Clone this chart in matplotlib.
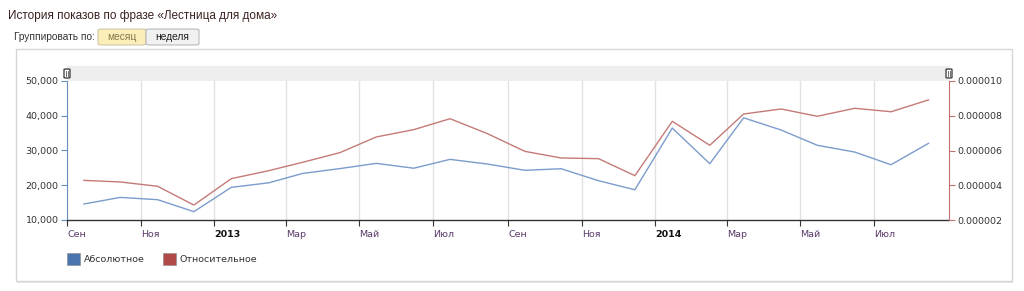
import matplotlib
matplotlib.use("Agg")
import matplotlib.pyplot as plt
import matplotlib.dates as mdates
from matplotlib.patches import Rectangle, FancyBboxPatch
import datetime as dt

# ---- data ----
months = [(2012, 9), (2012, 10), (2012, 11), (2012, 12),
          (2013, 1), (2013, 2), (2013, 3), (2013, 4), (2013, 5), (2013, 6),
          (2013, 7), (2013, 8), (2013, 9), (2013, 10), (2013, 11), (2013, 12),
          (2014, 1), (2014, 2), (2014, 3), (2014, 4), (2014, 5), (2014, 6),
          (2014, 7), (2014, 8)]
absolute = [14600, 16500, 15850, 12400, 19400, 20700, 23400, 24800, 26300, 24900,
            27450, 26100, 24300, 24750, 21300, 18700, 36450, 26200, 39400, 35900,
            31500, 29550, 25900, 32050]
relative = [4.28e-6, 4.19e-6, 3.94e-6, 2.86e-6, 4.38e-6, 4.84e-6, 5.32e-6, 5.88e-6,
            6.78e-6, 7.20e-6, 7.83e-6, 6.97e-6, 5.95e-6, 5.57e-6, 5.53e-6, 4.55e-6,
            7.68e-6, 6.30e-6, 8.10e-6, 8.39e-6, 7.97e-6, 8.43e-6, 8.23e-6, 8.91e-6]
tick_months = [(2012, 9), (2012, 11), (2013, 1), (2013, 3), (2013, 5), (2013, 7),
               (2013, 9), (2013, 11), (2014, 1), (2014, 3), (2014, 5), (2014, 7)]
tick_labels = ["Сен", "Ноя", "2013", "Мар", "Май", "Июл", "Сен", "Ноя", "2014",
               "Мар", "Май", "Июл"]
left_ticks = [10000, 20000, 30000, 40000, 50000]
left_labels = ["10,000", "20,000", "30,000", "40,000", "50,000"]
right_ticks = [2e-6, 4e-6, 6e-6, 8e-6, 10e-6]
right_labels = ["0.000002", "0.000004", "0.000006", "0.000008", "0.000010"]
series_names = ["Абсолютное", "Относительное"]

W, H = 1024, 291
fig = plt.figure(figsize=(W / 100, H / 100), dpi=100)
fig.patch.set_facecolor("white")

def fx(px):
    return px / W

def fy(py):
    return 1 - py / H

# panel box
fig.patches.append(Rectangle((fx(16), fy(281)), fx(996), 232 / H,
                             transform=fig.transFigure, facecolor="white",
                             edgecolor="#d6d6d6", lw=1, zorder=-3))
fig.patches.append(Rectangle((fx(17), fy(283)), fx(996), 2 / H,
                             transform=fig.transFigure, facecolor="#e8e8e8",
                             edgecolor="none", zorder=-4))

# header texts
fig.text(fx(8), fy(16), "История показов по фразе «Лестница для дома»",
         fontsize=8.5, color="#3a2020", family="Liberation Sans", va="center")
fig.text(fx(14), fy(37), "Группировать по:", fontsize=7.3, color="#333333",
         family="Liberation Sans", va="center")
fig.patches.append(FancyBboxPatch((fx(98), fy(45)), fx(48), 16 / H,
                                  boxstyle="round,pad=0,rounding_size=0.004",
                                  transform=fig.transFigure, facecolor="#fbeeb8",
                                  edgecolor="#cfc9a8", lw=0.8))
fig.patches.append(FancyBboxPatch((fx(146), fy(45)), fx(53), 16 / H,
                                  boxstyle="round,pad=0,rounding_size=0.004",
                                  transform=fig.transFigure, facecolor="#f1f1f1",
                                  edgecolor="#b9b9b9", lw=0.8))
fig.text(fx(122), fy(37), "месяц", fontsize=7.4, color="#8a7a50",
         family="Liberation Sans", ha="center", va="center")
fig.text(fx(172), fy(37), "неделя", fontsize=7.4, color="#222222",
         family="Liberation Sans", ha="center", va="center")

# main axes
L, R, T, B = 67, 949, 81, 220
ax = fig.add_axes([fx(L), fy(B), fx(R - L), (B - T) / H])
ax2 = ax.twinx()

dates = [mdates.date2num(dt.date(y, m, 15)) for y, m in months]
tdates = [mdates.date2num(dt.date(y, m, 1)) for y, m in tick_months]

ax.plot(dates, absolute, color="#7c9ccb", lw=1.0, zorder=3)
ax2.plot(dates, relative, color="#c47a78", lw=1.0, zorder=3)

ax.set_xlim(mdates.date2num(dt.date(2012, 9, 1)), mdates.date2num(dt.date(2014, 9, 1)))
ax.set_ylim(10000, 50000)
ax2.set_ylim(2e-6, 10e-6)

ax.set_xticks(tdates)
ax.set_xticklabels(tick_labels)
for lbl, txt in zip(ax.get_xticklabels(), tick_labels):
    lbl.set_family("DejaVu Sans")
    lbl.set_fontsize(6.8)
    lbl.set_ha("left")
    if txt.isdigit():
        lbl.set_fontweight("bold")
        lbl.set_color("#111111")
    else:
        lbl.set_color("#5a3a6a")
ax.tick_params(axis="x", length=4, width=0.8, color="#333333", pad=3)

ax.set_yticks(left_ticks)
ax.set_yticklabels(left_labels, fontsize=6.8, color="#333333", family="DejaVu Sans")
ax.tick_params(axis="y", length=4, width=0.8, color="#6a8cc0", pad=2)
ax2.set_yticks(right_ticks)
ax2.set_yticklabels(right_labels, fontsize=6.8, color="#333333", family="DejaVu Sans")
ax2.tick_params(axis="y", length=4, width=0.8, color="#c07070", pad=2)

ax.grid(axis="x", color="#e2e2e2", lw=1.0)
ax.set_axisbelow(True)

for a in (ax, ax2):
    a.spines["top"].set_visible(False)
    a.patch.set_visible(False)
ax.spines["left"].set_color("#6a8cc0")
ax.spines["right"].set_visible(False)
ax2.spines["left"].set_visible(False)
ax2.spines["right"].set_color("#c07070")
ax2.spines["bottom"].set_visible(False)
ax.spines["bottom"].set_color("#333333")
ax.spines["bottom"].set_linewidth(1.0)

# scroller band
fig.patches.append(Rectangle((fx(L), fy(81)), fx(R - L), 15 / H,
                             transform=fig.transFigure, facecolor="#eeeeee",
                             edgecolor="none", zorder=-1))
for hx in (L, R):
    fig.patches.append(FancyBboxPatch((fx(hx - 3), fy(78)), fx(6), 9 / H,
                                      boxstyle="round,pad=0,rounding_size=0.002",
                                      transform=fig.transFigure, facecolor="white",
                                      edgecolor="#333333", lw=0.9, zorder=5))
    fig.lines.append(plt.Line2D([fx(hx - 0.8), fx(hx - 0.8)], [fy(76), fy(70.5)],
                                transform=fig.transFigure, color="#555555", lw=0.6,
                                zorder=6))
    fig.lines.append(plt.Line2D([fx(hx + 0.8), fx(hx + 0.8)], [fy(76), fy(70.5)],
                                transform=fig.transFigure, color="#555555", lw=0.6,
                                zorder=6))

# legend
leg_colors = ["#4a74ad", "#b04a48"]
leg_x = [67, 163]
for name, c, lx in zip(series_names, leg_colors, leg_x):
    fig.patches.append(Rectangle((fx(lx), fy(265)), fx(13), 12 / H,
                                 transform=fig.transFigure, facecolor=c,
                                 edgecolor="#8a8a8a", lw=0.4))
    fig.text(fx(lx + 17), fy(259.5), name, fontsize=6.8, color="#333333",
             family="DejaVu Sans", va="center")

fig.savefig("out.png", dpi=100)
